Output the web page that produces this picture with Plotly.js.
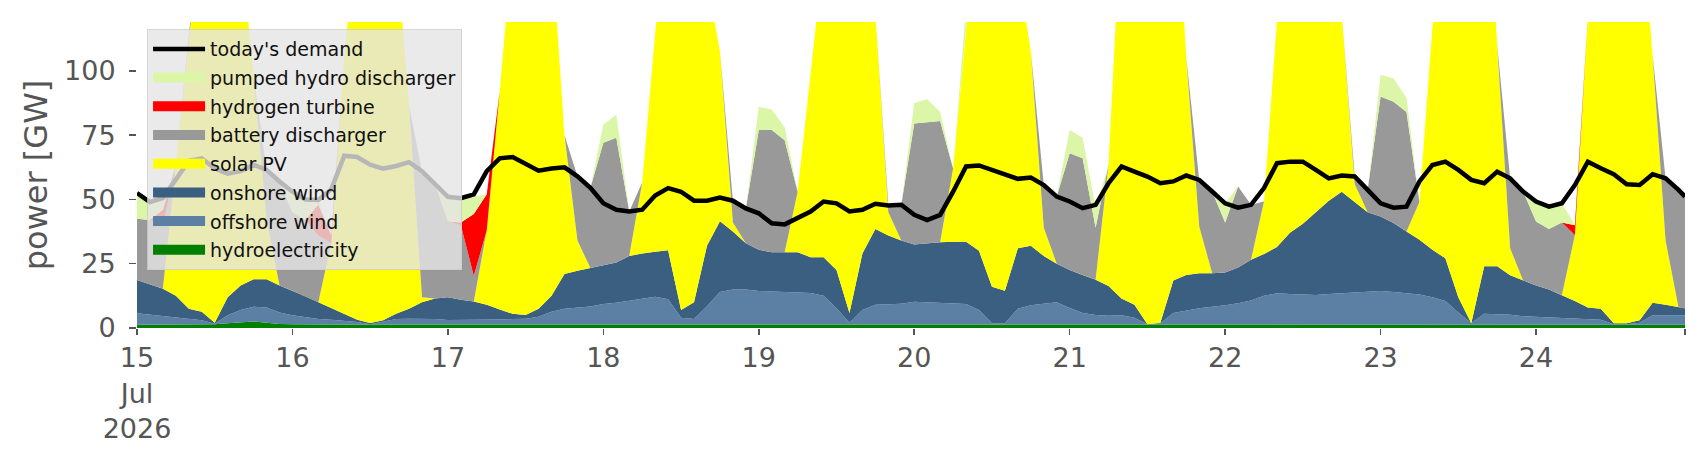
<!DOCTYPE html>
<html>
<head>
<meta charset="utf-8">
<script src="https://cdn.plot.ly/plotly-3.0.1.min.js"></script>
<style>
body{margin:0;background:#fff}
#chart{width:1706px;height:460px}
</style>
</head>
<body>
<div id="chart"></div>
<script>
// 2-hourly readings, one row per day (15..24 Jul), last row ends with 24 Jul 23:00
let hydro = [
1.3,1.3,1.3,1.4,1.4,1.5,1.5,1.8,2.2,2.5,2.0,1.6,
1.5,1.4,1.4,1.4,1.4,1.4,1.3,1.3,1.4,1.5,1.5,1.5,
1.4,1.4,1.3,1.3,1.3,1.3,1.3,1.3,1.3,1.3,1.3,1.3,
1.3,1.3,1.3,1.3,1.3,1.3,1.3,1.3,1.3,1.3,1.3,1.3,
1.3,1.3,1.3,1.3,1.3,1.3,1.3,1.3,1.3,1.3,1.3,1.3,
1.3,1.3,1.3,1.3,1.3,1.3,1.3,1.3,1.3,1.3,1.3,1.3,
1.3,1.3,1.3,1.3,1.3,1.3,1.3,1.3,1.3,1.3,1.3,1.3,
1.3,1.3,1.3,1.3,1.3,1.3,1.3,1.3,1.3,1.3,1.3,1.3,
1.3,1.3,1.3,1.3,1.3,1.3,1.3,1.3,1.3,1.3,1.3,1.3,
1.3,1.3,1.3,1.3,1.3,1.3,1.3,1.3,1.3,1.3,1.3,1.3,1.3]

let offshore = [
4.4,3.9,3.2,2.6,2.1,1.5,0.2,3.2,4.8,5.8,6.0,4.4,
3.5,2.8,2.1,1.8,1.4,0.9,0.2,1.2,2.1,2.1,2.1,2.0,
1.7,1.7,1.8,1.8,2.0,2.2,2.3,3.1,5.0,6.2,6.7,7.1,
8.0,8.5,9.3,10.2,10.9,9.9,2.7,2.2,7.2,12.7,13.7,13.7,
13.1,12.9,12.7,12.5,12.3,11.2,6.4,0.7,5.7,7.7,7.9,8.1,
8.9,8.7,8.4,8.2,8.0,5.7,0.5,0.5,6.2,7.5,8.2,8.7,
6.5,4.5,3.8,3.5,3.7,2.7,0.2,0.5,4.5,5.5,6.4,7.0,
7.5,8.3,9.4,11.2,12.2,11.9,11.7,11.5,11.9,12.2,12.7,12.8,
13.1,12.7,12.3,11.7,10.7,9.2,4.7,0.5,4.2,4.0,3.9,3.3,
3.1,2.9,2.7,2.5,2.2,1.9,0.2,0.2,0.7,3.7,3.7,3.7,3.7]

let onshore = [
13.0,11.8,10.8,8.5,4.0,3.3,0.3,7.0,9.5,10.7,11.0,10.5,
9.5,8.1,6.5,4.5,2.4,0.9,0.4,0.5,2.0,3.9,6.4,8.0,
8.9,7.9,7.2,5.9,3.9,2.0,1.5,3.1,6.2,13.5,14.3,14.9,
15.0,15.7,17.4,17.5,17.5,19.0,3.0,6.5,23.5,27.5,22.5,18.0,
16.0,15.3,15.5,15.7,13.9,15.0,14.9,3.8,22.0,29.5,26.8,24.6,
22.3,23.0,23.6,24.0,24.2,23.0,14.2,12.7,23.5,23.2,18.5,15.0,
14.8,14.8,13.7,11.5,6.5,5.0,0,0.2,12.7,13.8,13.6,13.0,
12.8,13.9,15.8,16.3,18.0,23.8,27.5,32.2,36.3,39.5,35.0,30.9,
29.0,26.8,23.9,21.3,18.4,16.6,6.0,0,18.5,18.7,15.3,13.9,
12.1,10.8,8.8,6.7,4.5,4.3,0.3,0.3,1.0,4.8,4.0,3.0,2.7]

let solar = [
0,0,0,50.9,106.5,153.7,168,153,133.5,78.8,23.2,0,
0,0,0,25.3,99.8,156.8,168.1,167,144.5,79,2,0,
0,0,0,29,84.8,144.5,164.9,162.5,137.5,54,11.7,0,
0,0,0,27.6,85.1,129.8,163,160,104,66,3.5,0,
0,0,0,23.5,71.5,117.5,147.4,164.2,131,83.5,9,0,
0,0,0,28.5,91.5,140,159,155.5,109,75.5,11,0,
0,0,0,47.3,152.5,171,178.5,178,171.5,84.4,18.2,0,
0,0,0,20.4,88.5,133,139.5,135,120.5,69,7,0,
0,0,0,14.7,86.6,142.9,168,178.2,176,86,10.5,0,
0,0,0,25.7,113,162.5,178.2,178.2,167,96.2,25,0,0]

let battery = [
23.8,25.0,24.7,0,0,0,0,0,0,0,19.3,40.5,
30.5,29.7,26,0,0,0,0,0,0,0,49,44.5,
29.5,29,10,0,0,0,0,0,0,0,25,31.2,
47.7,48.5,17.3,0,0,0,0,0,0,0,8.5,13.5,
46.6,47.5,43.5,0,0,0,0,0,0,0,2.6,13.9,
47,47,47.2,0,0,0,0,0,0,0,16.6,26.1,
45.4,45.4,20.2,0,0,0,0,0,0,0,18.1,31.8,
19.4,31.5,21.4,0,0,0,0,0,0,0,2.9,8.7,
46.6,47.2,46.5,0,0,0,0,0,0,0,27.2,34.6,
24.9,23.5,28.2,0,0,0,0,0,0,0,24.2,45.7,43.4]

let hydrogen = [
0,0,6,0,0,0,0,0,0,0,0,0,
0,0,12,3,0,0,0,0,0,0,0,0,
0,1,24,14,0,0,0,0,0,0,0,0,
0,0,0,0,0,0,0,0,0,0,0,0,
0,0,0,0,0,0,0,0,0,0,0,0,
0,0,0,0,0,0,0,0,0,0,0,0,
0,0,0,0,0,0,0,0,0,0,0,0,
0,0,0,0,0,0,0,0,0,0,0,0,
0,0,0,0,0,0,0,0,0,0,0,0,
0,0,0,3.8,0,0,0,0,0,0,0,0,0]

let pumped = [
8.5,7.5,4,0,0,0,0,0,0,0,0,0,
8,8,2,0,0,0,0,0,0,0,0,0,
9,10,6.7,0,0,0,0,0,0,0,0,0,
7,9,0,0,0,0,0,0,0,0,0,0,
9,8,5,0,0,0,0,0,0,0,0,0,
8,9,3.5,0,0,0,0,0,0,0,0,0,
9,8,7.6,0,0,0,0,0,0,0,0,0,
7.5,0,0,0,0,0,0,0,0,0,0,0,
8.5,9,5.5,0,0,0,0,0,0,0,0,0,
7.8,8.7,7.5,0,0,0,0,0,0,0,0,0,0]

let demand = [
52.5,49,50.5,58,65,66,62,60,61,63.5,61.5,57,
53,50,49.8,54,67,66.5,63.5,62,63,64.5,61,56,
51,50.5,52,61,66,66.5,64,61.2,62,62.5,59,54.5,
48.5,46,45.3,46,51.5,54.4,53,49.5,49.5,50.7,49.5,46.5,
44.6,40.7,40.3,42.7,45.3,49.2,48.5,45.3,46,48.3,47.6,47.9,
44,42,44,53,62.8,63.2,61.5,59.8,58,58.5,55.6,51.1,
49.2,46.6,47.9,56.3,62.8,60.8,58.9,56.3,57,59.3,57.6,53.1,
48.5,46.8,47.9,54.4,64.1,64.7,64.7,61.5,58.2,59.3,58.9,53.7,
48.5,46.8,47.2,57,63.4,64.7,61.5,57.6,56.3,60.8,58.2,53.1,
49.2,47.2,48.5,55.6,64.7,62.1,59.8,55.9,55.6,59.8,58.2,53.7,51.1]

let tickDays = ["2026-07-15","2026-07-16","2026-07-17","2026-07-18","2026-07-19","2026-07-20","2026-07-21","2026-07-22","2026-07-23","2026-07-24","2026-07-24 23:00"]
let tickLabels = ["15<br>Jul<br>2026","16","17","18","19","20","21","22","23","24",""]

let times = []
for(let d=15; d<=24; d++){
  for(let h=0; h<24; h+=2){
    times.push("2026-07-"+d+" "+String(h).padStart(2,"0")+":00")
  }
}
times.push("2026-07-24 23:00")

let sources = [
  {name: "hydroelectricity", y: hydro, color: "#008000"},
  {name: "offshore wind", y: offshore, color: "#5b80a4"},
  {name: "onshore wind", y: onshore, color: "#3b5f81"},
  {name: "solar PV", y: solar, color: "#ffff00"},
  {name: "battery discharger", y: battery, color: "#999999"},
  {name: "hydrogen turbine", y: hydrogen, color: "#ff0000"},
  {name: "pumped hydro discharger", y: pumped, color: "#daf6a6"}
]

let traces = []
sources.forEach(s=>{
  traces.push({
    x: times, y: s.y, name: s.name, type: "scatter", mode: "lines",
    stackgroup: "supply", showlegend: false,
    line: {width: 0, color: s.color}, fillcolor: s.color,
    hoverinfo: "skip"
  })
})

traces.push({
  x: times, y: demand, name: "today's demand", type: "scatter", mode: "lines",
  legendgroup: "demand", legendrank: 1,
  line: {color: "#000000", width: 4.5}, hoverinfo: "skip"
})

// legend swatches (thick bars like the original legend patches)
sources.forEach((s,i)=>{
  traces.push({
    x: [null], y: [null], name: s.name, type: "scatter", mode: "lines",
    legendgroup: s.name, legendrank: 8-i,
    line: {color: s.color, width: 13}, hoverinfo: "skip"
  })
})

let layout = {
  width: 1706, height: 460,
  margin: {l: 137, r: 21, t: 22, b: 132},
  paper_bgcolor: "#ffffff", plot_bgcolor: "#ffffff",
  font: {family: "DejaVu Sans", color: "#555555"},
  showlegend: true,
  legend: {
    x: 0.0065, y: 0.977, xanchor: "left", yanchor: "top",
    bgcolor: "rgba(229,229,229,0.8)", bordercolor: "rgba(204,204,204,0.8)", borderwidth: 1,
    font: {size: 19, color: "#111111"},
    traceorder: "grouped", tracegroupgap: 1, itemwidth: 52
  },
  xaxis: {
    type: "date",
    range: ["2026-07-15 00:00", "2026-07-24 23:00"],
    tickmode: "array", tickvals: tickDays, ticktext: tickLabels,
    ticks: "outside", ticklen: 6, tickwidth: 1.5, tickcolor: "#555555",
    tickfont: {size: 27, color: "#555555"},
    showgrid: false, zeroline: false, showline: false
  },
  yaxis: {
    range: [0, 119],
    tickmode: "array", tickvals: [0, 25, 50, 75, 100],
    ticks: "outside", ticklen: 7, tickwidth: 1.5, tickcolor: "#555555",
    ticklabelstandoff: 8,
    tickfont: {size: 27, color: "#555555"},
    showgrid: false, zeroline: false, showline: false,
    title: {text: "power [GW]", font: {size: 32, color: "#555555"}, standoff: 6}
  }
}

Plotly.newPlot("chart", traces, layout, {displayModeBar: false, staticPlot: true})
</script>
</body>
</html>
